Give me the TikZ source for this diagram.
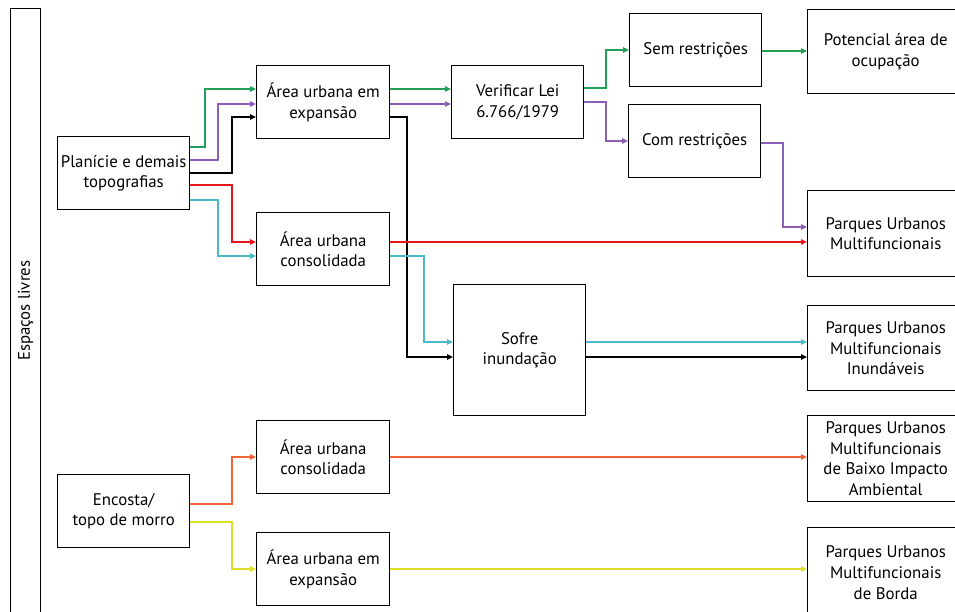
\documentclass[tikz,border=0pt]{standalone}
\usepackage{fontspec}
\setmainfont{PT Sans}
\usetikzlibrary{arrows.meta}

\definecolor{lgreen}{RGB}{34,160,90}
\definecolor{lpurple}{RGB}{140,95,180}
\definecolor{lred}{RGB}{232,22,28}
\definecolor{lcyan}{RGB}{75,185,200}
\definecolor{lorange}{RGB}{240,100,55}
\definecolor{lyellow}{RGB}{222,222,40}

\begin{document}
\begin{tikzpicture}[
  x=1pt, y=-1pt,
  box/.style={rectangle, draw, line width=1.4pt, anchor=north west, align=center,
    inner sep=0pt, font=\fontsize{16.8}{20.7}\selectfont},
  link/.style={line width=2pt, -{Triangle[length=6pt,width=5.5pt]}},
  >=Triangle
]
  \useasboundingbox (0,0) rectangle (955,612);

  % Coluna esquerda
  \node[box, minimum width=30pt, minimum height=604pt] (esp) at (10,8) {};
  \node[rotate=90, font=\fontsize{16.8}{19}\selectfont] (esptxt) at (esp.center) {Espaços livres};

  % Origens
  \node[box, minimum width=132pt, minimum height=73pt] (plan) at (57,136) {Planície e demais\\topografias};
  \node[box, minimum width=132pt, minimum height=73pt] (enc) at (57,474) {Encosta/\\topo de morro};

  % Áreas urbanas
  \node[box, minimum width=133pt, minimum height=73pt] (aue) at (256,65) {Área urbana em\\expansão};
  \node[box, minimum width=133pt, minimum height=73pt] (auc) at (256,212) {Área urbana\\consolidada};
  \node[box, minimum width=133pt, minimum height=73pt] (auc2) at (256,420) {Área urbana\\consolidada};
  \node[box, minimum width=133pt, minimum height=73pt] (aue2) at (256,532) {Área urbana em\\expansão};

  % Verificações
  \node[box, minimum width=132pt, minimum height=73pt] (lei) at (451,65) {Verificar Lei\\6.766/1979};
  \node[box, minimum width=132pt, minimum height=131pt] (inund) at (453,284) {Sofre\\inundação};
  \node[box, minimum width=132pt, minimum height=73pt] (sem) at (629,13) {Sem restrições};
  \node[box, minimum width=132pt, minimum height=73pt] (com) at (628,104) {Com restrições};

  % Resultados
  \node[box, minimum width=156pt, minimum height=84pt] (pot) at (807,9) {Potencial área de\\ocupação};
  \node[box, minimum width=156pt, minimum height=86pt] (pum) at (807,190) {Parques Urbanos\\Multifuncionais};
  \node[box, minimum width=156pt, minimum height=85pt] (pui) at (807,305) {Parques Urbanos\\Multifuncionais\\Inundáveis};
  \node[box, minimum width=156pt, minimum height=86pt] (pub) at (807,415) {Parques Urbanos\\Multifuncionais\\de Baixo Impacto\\Ambiental};
  \node[box, minimum width=156pt, minimum height=90pt] (pbo) at (807,527) {Parques Urbanos\\Multifuncionais\\de Borda};

  % Planície -> áreas urbanas
  \draw[link, lgreen] (plan.east |- 0,147) -| (205,89) -- (aue.west |- 0,89);
  \draw[link, lpurple] (plan.east |- 0,160) -| (218,104) -- (aue.west |- 0,104);
  \draw[link, black] (plan.east |- 0,173) -| (232,117) -- (aue.west |- 0,117);
  \draw[link, lred] (plan.east |- 0,185) -| (232,242) -- (auc.west |- 0,242);
  \draw[link, lcyan] (plan.east |- 0,200) -| (218,256) -- (auc.west |- 0,256);

  % Área em expansão
  \draw[link, lgreen] (aue.east |- 0,89) -- (lei.west |- 0,89);
  \draw[link, lpurple] (aue.east |- 0,104) -- (lei.west |- 0,104);
  \draw[link, black] (aue.east |- 0,117) -| (407,357) -- (inund.west |- 0,357);

  % Área consolidada
  \draw[link, lred] (auc.east |- 0,242) -- (pum.west |- 0,242);
  \draw[link, lcyan] (auc.east |- 0,256) -| (424,342) -- (inund.west |- 0,342);

  % Lei 6.766/1979
  \draw[link, lgreen] (lei.east |- 0,88) -| (606,50) -- (sem.west |- 0,50);
  \draw[link, lpurple] (lei.east |- 0,102) -| (606,141) -- (com.west |- 0,141);
  \draw[link, lgreen] (sem.east |- 0,51) -- (pot.west |- 0,51);
  \draw[link, lpurple] (com.east |- 0,143) -| (783,227) -- (pum.west |- 0,227);

  % Inundação
  \draw[link, lcyan] (inund.east |- 0,342) -- (pui.west |- 0,342);
  \draw[link, black] (inund.east |- 0,357) -- (pui.west |- 0,357);

  % Encosta
  \draw[link, lorange] (enc.east |- 0,504) -| (232,457) -- (auc2.west |- 0,457);
  \draw[link, lyellow] (enc.east |- 0,522) -| (232,569) -- (aue2.west |- 0,569);
  \draw[link, lorange] (auc2.east |- 0,457) -- (pub.west |- 0,457);
  \draw[link, lyellow] (aue2.east |- 0,569) -- (pbo.west |- 0,569);
\end{tikzpicture}
\end{document}
